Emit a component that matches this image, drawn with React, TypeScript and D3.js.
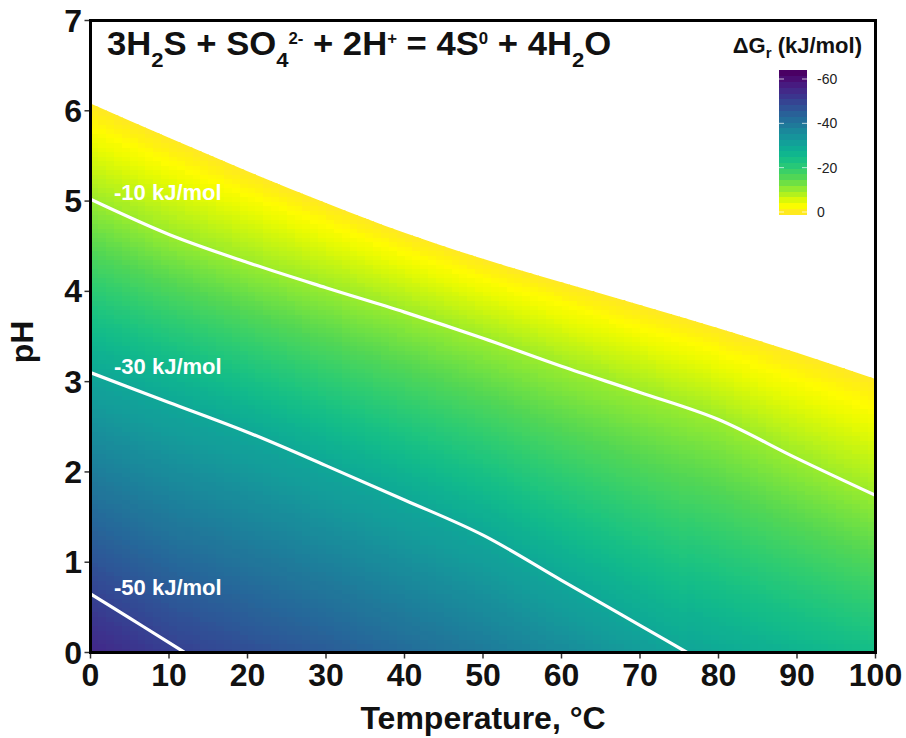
import React from 'react'
import * as d3 from 'd3'

// temperatures (°C) where the contours were read
const temps = [0, 10, 20, 30, 40, 50, 60, 70, 80, 90, 100]
// pH where ΔGr = 0 (top edge of the coloured field)
const phZero = [6.08, 5.7, 5.33, 4.98, 4.65, 4.36, 4.1, 3.85, 3.59, 3.32, 3.03]
// pH of the -10 kJ/mol line
const phMinus10 = [5.02, 4.63, 4.32, 4.04, 3.77, 3.48, 3.17, 2.88, 2.58, 2.15, 1.74]
// -30 kJ/mol line, reaches pH 0 at 76 °C
const temps30 = [0, 10, 20, 30, 40, 50, 60, 70, 76]
const phMinus30 = [3.1, 2.77, 2.44, 2.07, 1.69, 1.3, 0.8, 0.3, 0]
// -50 kJ/mol line, reaches pH 0 at 12 °C
const temps50 = [0, 5, 10, 12]
const phMinus50 = [0.65, 0.38, 0.11, 0]
// ΔGr along the bottom edge (pH 0)
const dgAtPh0 = [-55.3, -50.8, -48, -45.5, -42.5, -39.5, -36, -32.5, -29.5, -27, -24.5]

const contourLevels = [-10, -30, -50]
const contourLabels = ['-10 kJ/mol', '-30 kJ/mol', '-50 kJ/mol']

const xTicks = [0, 10, 20, 30, 40, 50, 60, 70, 80, 90, 100]
const yTicks = [0, 1, 2, 3, 4, 5, 6, 7]
const barTicks = [-60, -40, -20, 0]

const W = 906
const H = 738
const font = "'Liberation Sans', Arial, Helvetica, sans-serif"

// viridis, a bit more saturated like the printed figure
const viridis = (t: number) => {
  const c = d3.hsl(d3.interpolateViridis(t))
  c.s = Math.min(1, c.s * 1.25)
  return c.formatHex()
}

export default function App() {
  const x = d3.scaleLinear().domain([0, 100]).range([90.5, 875.5])
  const y = d3.scaleLinear().domain([0, 7]).range([652.5, 20.5])
  const color = d3.scaleSequential(viridis).domain([-64, 0])

  const z0 = d3.scaleLinear(temps, phZero)
  const z10 = d3.scaleLinear(temps, phMinus10)
  const z30 = d3.scaleLinear(temps30, phMinus30).clamp(true)
  const z50 = d3.scaleLinear(temps50, phMinus50).clamp(true)
  const g0 = d3.scaleLinear(temps, dgAtPh0)

  // ΔGr at a temperature / pH, piecewise along pH between the read lines
  const dg = (t: number, ph: number) => {
    const pts: [number, number][] = [[0, g0(t)]]
    if (t < 12) pts.push([z50(t), -50])
    if (t < 76) pts.push([z30(t), -30])
    pts.push([z10(t), -10], [z0(t), 0], [z0(t) + 2, 15])
    return d3.scaleLinear(pts.map(p => p[0]), pts.map(p => p[1]))(ph)
  }

  const dT = 1
  const dPh = 0.05
  const cells: { t: number; p: number; c: string }[] = []
  for (let t = 0; t < 100; t += dT) {
    const top = Math.max(z0(t), z0(t + dT))
    for (let p = 0; p < top; p += dPh) {
      cells.push({ t, p, c: color(dg(t + dT / 2, p + dPh / 2)) })
    }
  }
  const cw = x(dT) - x(0) + 0.6
  const ch = y(0) - y(dPh) + 0.6

  const fieldArea = d3.area<number>()
    .x(t => x(t))
    .y0(y(0))
    .y1((t, i) => y(phZero[i]))
    .curve(d3.curveMonotoneX)

  const line = d3.line<[number, number]>()
    .x(d => x(d[0]))
    .y(d => y(d[1]))
    .curve(d3.curveMonotoneX)

  const contourData: [number, number][][] = [
    temps.map((t, i) => [t, phMinus10[i]]),
    temps30.map((t, i) => [t, phMinus30[i]]),
    temps50.map((t, i) => [t, phMinus50[i]]),
  ]

  // colour bar
  const cbY = d3.scaleLinear().domain([0, -60]).range([212, 79])
  const barSteps = d3.range(1, -64, -2.6)

  return (
    <svg width={W} height={H} style={{ position: 'absolute', left: 0, top: 0, background: '#fff' }} fontFamily={font}>
      <defs>
        <clipPath id="field">
          <path d={fieldArea(temps) || ''} />
        </clipPath>
        <clipPath id="plot">
          <rect x={x(0)} y={y(7)} width={x(100) - x(0)} height={y(0) - y(7)} />
        </clipPath>
      </defs>

      <g clipPath="url(#field)" shapeRendering="crispEdges">
        {cells.map((d, i) => (
          <rect key={i} x={x(d.t)} y={y(d.p + dPh)} width={cw} height={ch} fill={d.c} />
        ))}
      </g>

      <g clipPath="url(#plot)">
        {contourData.map((d, i) => (
          <path key={i} d={line(d) || ''} fill="none" stroke="#fff" strokeWidth={3.2} />
        ))}
      </g>

      {contourLevels.map((lv, i) => (
        <text key={lv} x={x(3)} y={y(contourData[i][0][1]) + 1} fill="#fff" fontSize={22} fontWeight="bold">
          {contourLabels[i]}
        </text>
      ))}

      {/* title */}
      <g transform="translate(107,55) scale(1.05,1)">
        <text x={0} y={0} fontSize={33} fontWeight="bold" fill="#111">
          3H<tspan fontSize={21} dy={12}>2</tspan>
          <tspan dy={-12}>S + SO</tspan>
          <tspan fontSize={21} dy={12}>4</tspan>
          <tspan fontSize={16} dy={-23}>2-</tspan>
          <tspan dy={11}> + 2H</tspan>
          <tspan fontSize={16} dy={-11}>+</tspan>
          <tspan dy={11}> = 4S</tspan>
          <tspan fontSize={16} dy={-11}>0</tspan>
          <tspan dy={11}> + 4H</tspan>
          <tspan fontSize={21} dy={12}>2</tspan>
          <tspan dy={-12}>O</tspan>
        </text>
      </g>

      {/* colour bar */}
      <text x={862} y={53} textAnchor="end" fontSize={22} fontWeight="bold" fill="#111">
        ΔG<tspan fontSize={15} dy={5}>r</tspan><tspan dy={-5}> (kJ/mol)</tspan>
      </text>
      <g shapeRendering="crispEdges">
        {barSteps.map(v => (
          <rect key={v} x={779} y={cbY(v - 2.6)} width={28} height={cbY(v) - cbY(v - 2.6) + 0.5} fill={color(Math.min(0, v - 1.3))} />
        ))}
      </g>
      {barTicks.map(v => (
        <g key={v}>
          <line x1={779} x2={784} y1={cbY(v)} y2={cbY(v)} stroke="#fff" strokeOpacity={0.7} />
          <line x1={802} x2={807} y1={cbY(v)} y2={cbY(v)} stroke="#fff" strokeOpacity={0.7} />
          <text x={817} y={cbY(v) + 5} fontSize={14} fill="#222">{v}</text>
        </g>
      ))}

      {/* frame */}
      <rect x={x(0)} y={y(7)} width={x(100) - x(0)} height={y(0) - y(7)} fill="none" stroke="#000" strokeWidth={3} />

      {/* axes */}
      {xTicks.map(t => (
        <g key={t}>
          <line x1={x(t)} x2={x(t)} y1={y(0) + 1.5} y2={y(0) + 6} stroke="#333" strokeWidth={1.5} />
          <text x={x(t)} y={686} textAnchor="middle" fontSize={32} fontWeight="bold" fill="#111">{t}</text>
        </g>
      ))}
      {yTicks.map(p => (
        <g key={p}>
          <line x1={x(0) - 6} x2={x(0) - 1.5} y1={y(p)} y2={y(p)} stroke="#333" strokeWidth={1.5} />
          <text x={82} y={y(p) + 11} textAnchor="end" fontSize={32} fontWeight="bold" fill="#111">{p}</text>
        </g>
      ))}
      <text x={483} y={729} textAnchor="middle" fontSize={32} fontWeight="bold" fill="#111">Temperature, °C</text>
      <text transform="translate(33,342) rotate(-90)" textAnchor="middle" fontSize={32} fontWeight="bold" fill="#111">pH</text>
    </svg>
  )
}
